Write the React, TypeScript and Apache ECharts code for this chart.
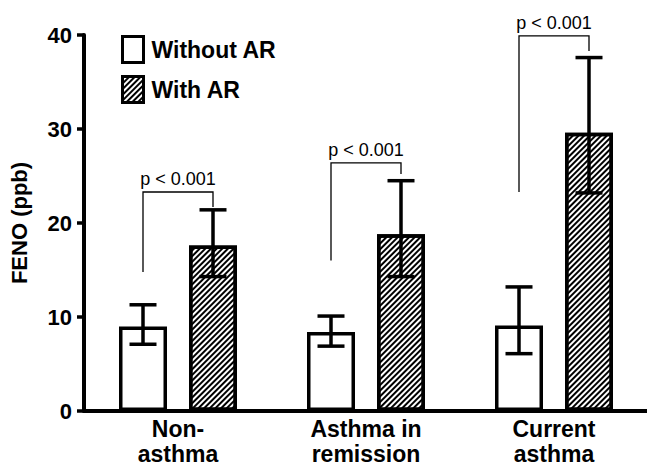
import React, { useEffect, useRef } from "react";
import * as echarts from "echarts";

const categories = ["Non-\nasthma", "Asthma in\nremission", "Current\nasthma"];
const seriesNames = ["Without AR", "With AR"];
const withoutAR = [9.0, 8.4, 9.1];
const withAR = [17.6, 18.8, 29.6];
const withoutARLow = [7.1, 6.9, 6.1];
const withoutARHigh = [11.3, 10.1, 13.2];
const withARLow = [14.3, 14.3, 23.2];
const withARHigh = [21.4, 24.5, 37.6];
const bracketLevel = [23.3, 26.4, 39.9];
const bracketLeftEnd = [14.8, 16.0, 23.3];
const bracketRightEnd = [21.7, 25.2, 38.3];
const pLabels = ["p < 0.001", "p < 0.001", "p < 0.001"];
const yMin = 0;
const yMax = 40;
const yInterval = 10;
const yTitle = "FENO (ppb)";

const FONT = "'Liberation Sans', Arial, Helvetica, sans-serif";
const BAR_W = 48;
const BAR_GAP_PX = 22;
const OFFSET = (BAR_W + BAR_GAP_PX) / 2;
const CAP = 27;
const ERR_W = 3.5;

export default function App() {
  const ref = useRef<HTMLDivElement>(null);
  useEffect(() => {
    if (!ref.current) return;
    const chart = echarts.init(ref.current, undefined, { renderer: "svg" });

    const errRender = (sign: number) => (params: any, api: any) => {
      const idx = api.value(0);
      const x = api.coord([idx, 0])[0] + sign * OFFSET;
      const yl = api.coord([idx, api.value(1)])[1];
      const yh = api.coord([idx, api.value(2)])[1];
      const st = { stroke: "#000", lineWidth: ERR_W };
      return {
        type: "group",
        children: [
          { type: "line", shape: { x1: x, y1: yl, x2: x, y2: yh }, style: st },
          { type: "line", shape: { x1: x - CAP / 2, y1: yh, x2: x + CAP / 2, y2: yh }, style: st },
          { type: "line", shape: { x1: x - CAP / 2, y1: yl, x2: x + CAP / 2, y2: yl }, style: st },
        ],
      };
    };

    const bracketRender = (params: any, api: any) => {
      const idx = api.value(0);
      const xc = api.coord([idx, 0])[0];
      const xl = xc - OFFSET;
      const xr = xc + OFFSET;
      const yTop = api.coord([idx, api.value(1)])[1];
      const yL = api.coord([idx, api.value(2)])[1];
      const yR = api.coord([idx, api.value(3)])[1];
      return {
        type: "group",
        children: [
          {
            type: "polyline",
            shape: { points: [[xl, yL], [xl, yTop], [xr, yTop], [xr, yR]] },
            style: { stroke: "#000", lineWidth: 1.3, fill: "none" },
          },
          {
            type: "text",
            x: xc,
            y: yTop - 4,
            style: {
              text: pLabels[idx],
              textAlign: "center",
              textVerticalAlign: "bottom",
              fontSize: 18,
              fontFamily: FONT,
              fill: "#000",
            },
          },
        ],
      };
    };

    const hatch = {
      symbol: "rect",
      symbolSize: 1,
      dashArrayX: [1, 0],
      dashArrayY: [1.2, 1.9],
      rotation: -Math.PI / 4,
      color: "#000",
      backgroundColor: "#fff",
    };

    chart.setOption({
      animation: false,
      backgroundColor: "#fff",
      grid: { left: 84, right: -1, top: 35, bottom: 55, containLabel: false, outerBoundsMode: "none" },
      legend: {
        orient: "vertical",
        left: 121,
        top: 35,
        padding: 0,
        icon: "rect",
        itemWidth: 21,
        itemHeight: 26,
        itemGap: 11,
        data: seriesNames,
        itemStyle: { borderColor: "#000", borderWidth: 3 },
        textStyle: {
          fontSize: 23,
          fontWeight: "bold",
          fontFamily: FONT,
          color: "#000",
          padding: [0, 0, 0, 3],
        },
      },
      xAxis: {
        type: "category",
        data: categories,
        axisLine: { lineStyle: { color: "#000", width: 4 } },
        axisTick: { show: false },
        axisLabel: {
          fontSize: 23,
          fontWeight: "bold",
          fontFamily: FONT,
          color: "#000",
          lineHeight: 25,
          margin: 5,
        },
      },
      yAxis: {
        type: "value",
        min: yMin,
        max: yMax,
        interval: yInterval,
        name: yTitle,
        nameLocation: "middle",
        nameRotate: 90,
        nameGap: 54,
        nameTextStyle: { fontSize: 22, fontWeight: "bold", fontFamily: FONT, color: "#000" },
        axisLine: { show: true, lineStyle: { color: "#000", width: 4 } },
        axisTick: { show: true, length: 7, lineStyle: { color: "#000", width: 3.5 } },
        splitLine: { show: false },
        axisLabel: { fontSize: 22, fontWeight: "bold", fontFamily: FONT, color: "#000", margin: 12 },
      },
      series: [
        {
          name: seriesNames[0],
          type: "bar",
          data: withoutAR,
          barWidth: BAR_W,
          barGap: (BAR_GAP_PX / BAR_W) * 100 + "%",
          itemStyle: { color: "#fff", borderColor: "#000", borderWidth: 3.5 },
        },
        {
          name: seriesNames[1],
          type: "bar",
          data: withAR,
          barWidth: BAR_W,
          barGap: (BAR_GAP_PX / BAR_W) * 100 + "%",
          itemStyle: { color: "#fff", borderColor: "#000", borderWidth: 3.5, decal: hatch },
        },
        {
          type: "custom",
          renderItem: errRender(-1),
          data: withoutAR.map((_, i) => [i, withoutARLow[i], withoutARHigh[i]]),
          encode: { x: 0, y: [1, 2] },
          z: 5,
          silent: true,
        },
        {
          type: "custom",
          renderItem: errRender(1),
          data: withAR.map((_, i) => [i, withARLow[i], withARHigh[i]]),
          encode: { x: 0, y: [1, 2] },
          z: 5,
          silent: true,
        },
        {
          type: "custom",
          renderItem: bracketRender,
          data: bracketLevel.map((v, i) => [i, v, bracketLeftEnd[i], bracketRightEnd[i]]),
          encode: { x: 0, y: [1, 2, 3] },
          z: 5,
          silent: true,
        },
      ],
    });
    return () => chart.dispose();
  }, []);
  return (
    <div
      ref={ref}
      style={{ position: "fixed", left: 0, top: 0, width: 647, height: 466, background: "#fff" }}
    />
  );
}
